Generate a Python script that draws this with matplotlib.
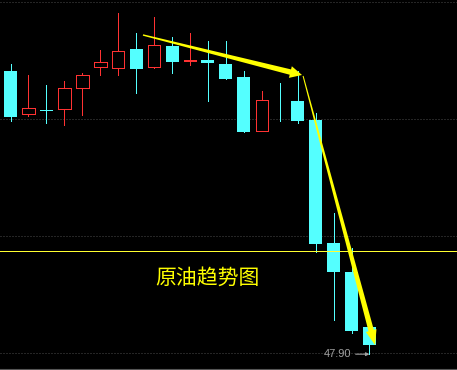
import numpy as np
import matplotlib
matplotlib.use("Agg")
import matplotlib.pyplot as plt
from matplotlib.patches import Polygon
from matplotlib.transforms import IdentityTransform

# daily candles (crude oil)
opens  = [72.10, 68.43, 68.78, 68.85, 70.65, 72.44, 72.36, 73.98, 72.44, 74.24, 72.96,
          73.04, 72.70, 71.59, 66.97, 69.58, 69.54, 67.91, 57.40, 54.92, 50.22]
highs  = [72.70, 71.76, 70.91, 71.25, 71.93, 73.90, 77.06, 75.35, 76.72, 75.01, 75.35,
          74.67, 74.67, 72.10, 70.39, 71.08, 72.10, 68.51, 59.97, 56.97, 50.50]
lows   = [67.83, 68.26, 67.66, 67.49, 68.34, 71.76, 71.76, 70.22, 72.36, 71.93, 72.62,
          69.54, 71.42, 66.89, 66.97, 67.83, 67.66, 56.63, 50.82, 49.71, 47.90]
closes = [68.17, 68.94, 68.67, 70.65, 71.76, 72.87, 73.81, 72.27, 74.32, 72.87, 73.00,
          72.79, 71.42, 66.89, 69.62, 69.50, 67.83, 57.32, 54.92, 49.88, 48.68]

grid_levels = [48, 58, 68, 78]
support_level = 56.72
low_label = "47.90"
title_text = "原油趋势图"

# trend arrows: (start index, start price) -> (tip index, tip price)
trend_arrows = [((7.38, 75.18), (16.24, 71.76)),
                ((16.30, 71.68), (20.31, 48.68))]

BG = "#000000"
UP = "#ff3232"
DOWN = "#54ffff"
YELLOW = "#ffff00"

fig = plt.figure(figsize=(4.57, 3.70), dpi=100)
fig.patch.set_facecolor(BG)
ax = fig.add_axes([0, 0, 1, 1])
ax.set_facecolor(BG)
ax.set_xlim(-0.585, 24.875)
ax.set_ylim(46.547, 78.17)
ax.axis("off")

for g in grid_levels:
	ax.axhline(g, color="#4a4a4a", lw=0.72, linestyle=(0, (1, 2)), zorder=1)
ax.axhline(46.59, color="#555555", lw=0.8, zorder=1)

x = np.arange(len(opens))
o = np.array(opens)
c = np.array(closes)
up = c >= o
cols = np.where(up, UP, DOWN)

ax.vlines(x, lows, highs, colors=cols, lw=0.72, antialiased=False, zorder=2)
bottoms = np.minimum(o, c)
heights = np.abs(c - o)
ax.bar(x[~up], heights[~up], bottom=bottoms[~up], width=0.72, color=DOWN,
       linewidth=0, antialiased=False, zorder=3)
ax.bar(x[up], heights[up], bottom=bottoms[up], width=0.70, facecolor=BG,
       edgecolor=UP, linewidth=0.72, antialiased=False, zorder=3)

ax.axhline(support_level, color="#ffff30", lw=0.72, antialiased=False, zorder=4)


def tapered_arrow(start, tip, w0, w1, hl, hw):
	s = ax.transData.transform(start)
	t = ax.transData.transform(tip)
	u = (t - s) / np.hypot(*(t - s))
	n = np.array([-u[1], u[0]])
	b = t - u * hl
	pts = [s + n * w0 / 2, b + n * w1 / 2, b + n * hw / 2, t,
	       b - n * hw / 2, b - n * w1 / 2, s - n * w0 / 2]
	ax.add_patch(Polygon(pts, closed=True, facecolor=YELLOW, edgecolor="none",
	                     transform=IdentityTransform(), zorder=6))


tapered_arrow(trend_arrows[0][0], trend_arrows[0][1], 1.4, 5.5, 12, 12)
tapered_arrow(trend_arrows[1][0], trend_arrows[1][1], 1.0, 5.5, 15, 11)

ax.text(0.453, 0.249, title_text, transform=ax.transAxes, ha="center", va="center",
        color=YELLOW, fontsize=15, family=["Noto Sans CJK SC", "DejaVu Sans"], zorder=7)

ax.annotate(low_label, xy=(20, 47.90), xytext=(-18, 0), textcoords="offset pixels",
            ha="right", va="center", color="#a0a0a0", fontsize=8, family="Liberation Sans",
            arrowprops=dict(arrowstyle="-|>", color="#a0a0a0", lw=0.8, mutation_scale=5,
                            shrinkA=1, shrinkB=0), zorder=7)

plt.savefig("out.png", dpi=100, facecolor=BG)
